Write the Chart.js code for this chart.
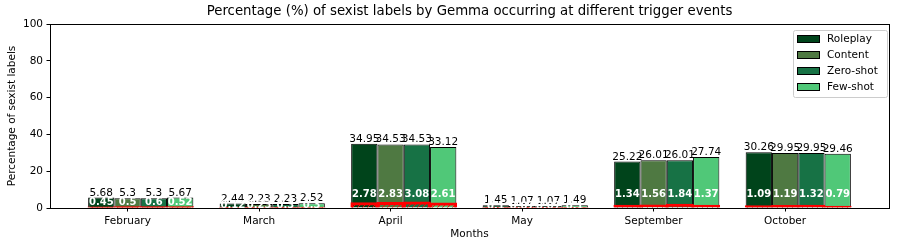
<!DOCTYPE html>
<html>
<head>
    <title>Sexist labels by Gemma per trigger event</title>
    <script src="https://cdn.jsdelivr.net/npm/chart.js"></script>
    <style>
        html, body {
            margin: 0;
            padding: 0;
            background-color: #ffffff;
        }
        #wrap {
            width: 897px;
            height: 249px;
        }
    </style>
</head>
<body>
    <div id="wrap"><canvas id="sexistChart" width="897" height="249"></canvas></div>

    <script>
        // Data
        const months = ['February', 'March', 'April', 'May', 'September', 'October'];
        const triggers = ['Roleplay', 'Content', 'Zero-shot', 'Few-shot'];
        const colors = ['#00441b', '#4f7942', '#177245', '#50c878'];

        // total percentage per trigger
        const roleplayTotal = [5.68, 2.44, 34.95, 1.45, 25.22, 30.26];
        const contentTotal  = [5.3, 2.23, 34.53, 1.07, 26.01, 29.95];
        const zeroShotTotal = [5.3, 2.23, 34.53, 1.07, 26.01, 29.95];
        const fewShotTotal  = [5.67, 2.52, 33.12, 1.49, 27.74, 29.46];

        // share occurring at the trigger event (red hatched part)
        const roleplayEvent = [0.45, 0.12, 2.78, 0.1, 1.34, 1.09];
        const contentEvent  = [0.5, 0.23, 2.83, 0.07, 1.56, 1.19];
        const zeroShotEvent = [0.6, 0.3, 3.08, 0.07, 1.84, 1.32];
        const fewShotEvent  = [0.52, 0.3, 2.61, 0.1, 1.37, 0.79];

        const totals = [roleplayTotal, contentTotal, zeroShotTotal, fewShotTotal];
        const events = [roleplayEvent, contentEvent, zeroShotEvent, fewShotEvent];

        const chartTitle = 'Percentage (%) of sexist labels by Gemma occurring at different trigger events';

        Chart.defaults.font.family = "'DejaVu Sans', sans-serif";
        Chart.defaults.font.size = 10.5;
        Chart.defaults.color = '#000';

        // red "////" hatch
        function makeHatch() {
            const c = document.createElement('canvas');
            c.width = 5;
            c.height = 5;
            const g = c.getContext('2d');
            g.strokeStyle = '#ff0000';
            g.lineWidth = 1;
            g.beginPath();
            g.moveTo(0, 5); g.lineTo(5, 0);
            g.moveTo(-1, 1); g.lineTo(1, -1);
            g.moveTo(4, 6); g.lineTo(6, 4);
            g.stroke();
            return g.createPattern(c, 'repeat');
        }
        const hatch = makeHatch();

        const toPoints = arr => arr.map((v, i) => ({ x: i, y: v }));

        const datasets = [];
        // event bars first so they are drawn over the totals
        events.forEach((arr, k) => {
            datasets.push({
                label: triggers[k] + ' (event)',
                data: toPoints(arr),
                stack: 's' + k,
                order: 0,
                backgroundColor: hatch,
                borderColor: '#ff0000',
                borderWidth: 1.5,
                inflateAmount: 0.75,
                isEvent: true
            });
        });
        totals.forEach((arr, k) => {
            datasets.push({
                label: triggers[k],
                data: toPoints(arr),
                stack: 's' + k,
                order: 1,
                backgroundColor: colors[k],
                borderColor: '#000',
                borderWidth: 1,
                eventIndex: k
            });
        });

        const al = p => Math.round(p - 0.5) + 0.5;

        // title, value labels, frame and legend
        const decorPlugin = {
            id: 'decor',
            afterDatasetsDraw(chart) {
                const ctx = chart.ctx;
                ctx.save();
                chart.data.datasets.forEach((ds, di) => {
                    if (ds.isEvent) return;
                    const meta = chart.getDatasetMeta(di);
                    meta.data.forEach((bar, i) => {
                        // total above bar
                        ctx.font = "10.5px 'DejaVu Sans'";
                        ctx.fillStyle = '#000';
                        ctx.textAlign = 'center';
                        ctx.textBaseline = 'alphabetic';
                        ctx.fillText(String(totals[ds.eventIndex][i]), bar.x, bar.y - 2);
                        // event share inside bar
                        const yIn = Math.max(bar.base - 13, (bar.y + bar.base) / 2);
                        ctx.font = "bold 10px 'DejaVu Sans'";
                        ctx.fillStyle = '#fff';
                        ctx.textBaseline = 'middle';
                        ctx.fillText(String(events[ds.eventIndex][i]), bar.x, yIn);
                    });
                });
                ctx.restore();
            },
            afterDraw(chart) {
                const ctx = chart.ctx;
                const a = chart.chartArea;
                ctx.save();
                ctx.strokeStyle = '#000';
                ctx.lineWidth = 1;
                const l = al(a.left), t = al(a.top), r = al(a.right), b = al(a.bottom);
                ctx.strokeRect(l, t, r - l, b - t);

                // title centred over the plot area
                ctx.font = "13.3px 'DejaVu Sans'";
                ctx.fillStyle = '#000';
                ctx.textAlign = 'center';
                ctx.textBaseline = 'middle';
                ctx.fillText(chartTitle, (a.left + a.right) / 2, 12);

                // legend box, upper right
                const bw = 94, bh = 67;
                const bx = a.right - bw - 2, by = a.top + 6;
                ctx.fillStyle = 'rgba(255,255,255,0.8)';
                ctx.strokeStyle = '#cccccc';
                ctx.beginPath();
                ctx.roundRect(bx + 0.5, by + 0.5, bw, bh, 2);
                ctx.fill();
                ctx.stroke();
                ctx.font = "10.5px 'DejaVu Sans'";
                ctx.textAlign = 'left';
                ctx.textBaseline = 'middle';
                triggers.forEach((t, k) => {
                    const cy = by + 9 + k * 16;
                    ctx.fillStyle = colors[k];
                    ctx.fillRect(bx + 4, cy - 3.5, 22.5, 7);
                    ctx.strokeStyle = '#000';
                    ctx.strokeRect(bx + 4.5, cy - 3.5, 22, 7);
                    ctx.fillStyle = '#000';
                    ctx.fillText(t, bx + 34, cy + 0.5);
                });
                ctx.restore();
            }
        };

        new Chart(document.getElementById('sexistChart').getContext('2d'), {
            type: 'bar',
            data: { datasets: datasets },
            plugins: [decorPlugin],
            options: {
                responsive: false,
                animation: false,
                categoryPercentage: 0.8,
                barPercentage: 1.0,
                layout: { padding: { left: 0, right: 8, top: 24, bottom: 0 } },
                plugins: {
                    legend: { display: false },
                    tooltip: { enabled: false },
                    title: { display: false }
                },
                scales: {
                    x: {
                        type: 'linear',
                        bounds: 'data',
                        min: -0.69,
                        max: 5.69,
                        offset: false,
                        grid: { display: true, drawOnChartArea: false, offset: false, tickLength: 3.5, color: '#000' },
                        border: { display: true, color: '#000' },
                        afterBuildTicks: s => {
                            // tick sits under the second bar of each group
                            s.ticks = months.map((m, i) => ({ value: i - 0.1 }));
                        },
                        ticks: {
                            callback: (v, i) => months[i],
                            autoSkip: false,
                            maxRotation: 0,
                            padding: 3.5,
                            color: '#000'
                        },
                        title: {
                            display: true,
                            text: 'Months',
                            color: '#000',
                            padding: { top: 0, bottom: 8 }
                        },
                        afterFit: s => { s.height = 41; }
                    },
                    y: {
                        min: 0,
                        max: 100,
                        stacked: false,
                        grid: { display: true, drawOnChartArea: false, tickLength: 3.5, color: '#000' },
                        border: { display: true, color: '#000' },
                        ticks: { stepSize: 20, padding: 3.5, color: '#000' },
                        title: {
                            display: true,
                            text: 'Percentage of sexist labels',
                            color: '#000',
                            padding: { top: 6, bottom: 0 }
                        },
                        afterFit: s => { s.width = 50; }
                    }
                }
            }
        });
    </script>
</body>
</html>
